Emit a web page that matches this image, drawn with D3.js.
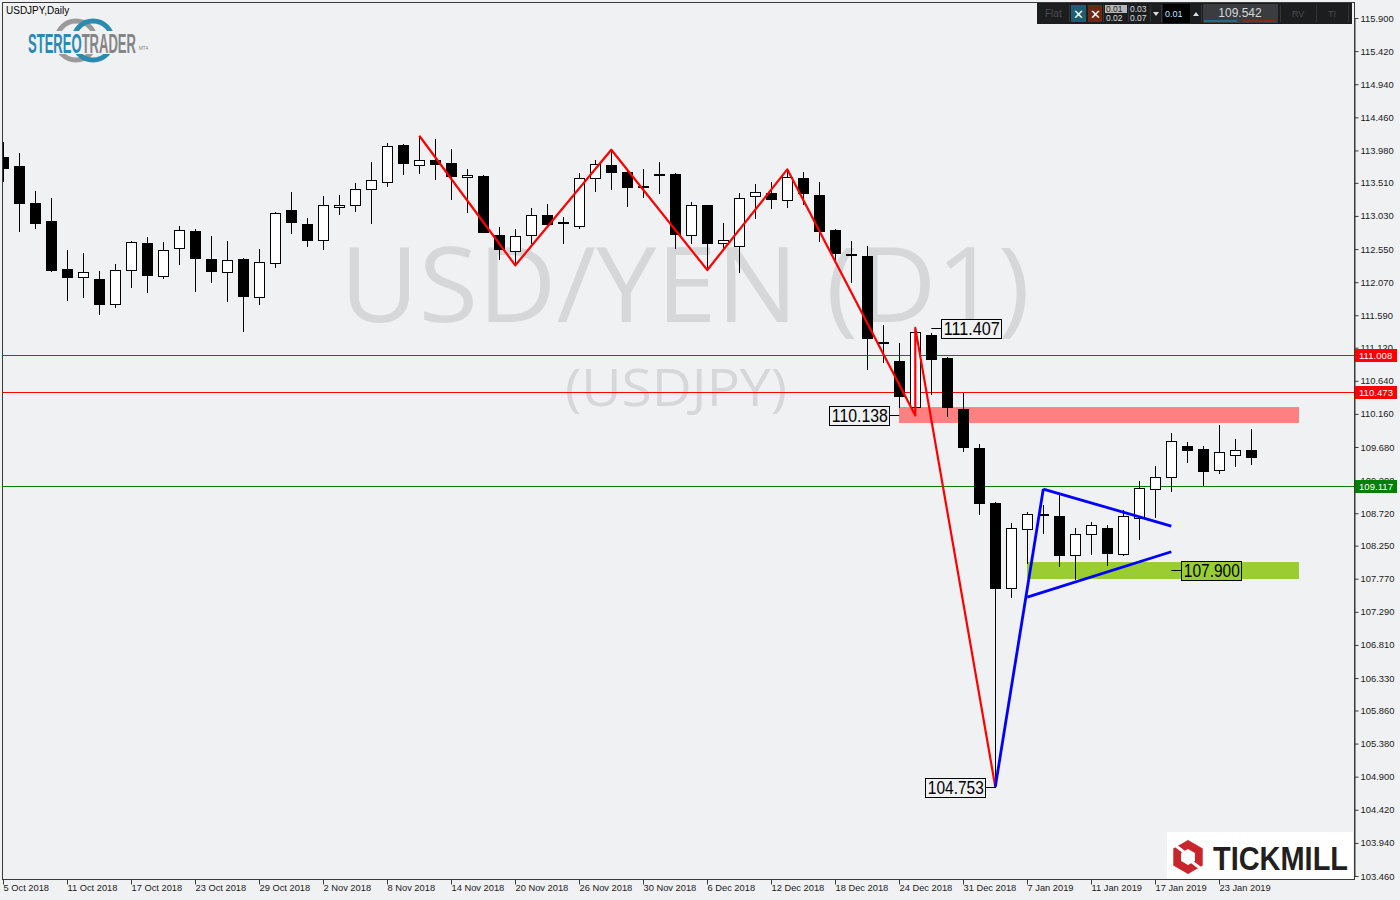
<!DOCTYPE html>
<html><head><meta charset="utf-8">
<script src="https://cdn.jsdelivr.net/npm/d3@7"></script>
<style>
html,body{margin:0;padding:0;background:#f0f1f3;}
svg{display:block;}
</style></head><body>
<svg id="chart" width="1400" height="900"></svg>
<script>
// ---------- DATA ----------
const dates = ["2018-10-05","2018-10-08","2018-10-09","2018-10-10","2018-10-11","2018-10-12","2018-10-15","2018-10-16","2018-10-17","2018-10-18","2018-10-19","2018-10-22","2018-10-23","2018-10-24","2018-10-25","2018-10-26","2018-10-29","2018-10-30","2018-10-31",
"2018-11-01","2018-11-02","2018-11-05","2018-11-06","2018-11-07","2018-11-08","2018-11-09","2018-11-12","2018-11-13","2018-11-14","2018-11-15","2018-11-16","2018-11-19","2018-11-20","2018-11-21","2018-11-22","2018-11-23","2018-11-26","2018-11-27","2018-11-28","2018-11-29","2018-11-30",
"2018-12-03","2018-12-04","2018-12-05","2018-12-06","2018-12-07","2018-12-10","2018-12-11","2018-12-12","2018-12-13","2018-12-14","2018-12-17","2018-12-18","2018-12-19","2018-12-20","2018-12-21","2018-12-24","2018-12-26","2018-12-27","2018-12-28","2018-12-31",
"2019-01-02","2019-01-03","2019-01-04","2019-01-07","2019-01-08","2019-01-09","2019-01-10","2019-01-11","2019-01-14","2019-01-15","2019-01-16","2019-01-17","2019-01-18","2019-01-21","2019-01-22","2019-01-23","2019-01-24","2019-01-25"];
const open  = [113.880,113.754,113.217,112.956,112.260,112.140,112.115,111.757,112.242,112.637,112.163,112.561,112.811,112.405,112.213,112.405,111.850,112.343,113.116,112.913,112.677,113.155,113.184,113.416,113.518,114.058,113.764,113.841,113.793,113.594,113.609,112.749,112.517,112.753,113.039,112.942,112.888,113.576,113.768,113.667,113.468,113.634,113.638,112.749,113.184,112.633,112.590,113.315,113.362,113.257,113.576,113.333,112.826,112.478,112.449,111.198,110.926,110.255,111.303,110.966,110.230,109.661,108.863,107.631,108.486,108.708,108.675,108.118,108.414,108.505,108.132,108.646,109.075,109.241,109.694,109.650,109.350,109.559,109.636];
const high  = [114.106,113.947,113.391,113.290,112.536,112.492,112.231,112.333,112.666,112.724,112.652,112.884,112.840,112.739,112.666,112.424,112.550,113.091,113.377,113.000,113.319,113.333,113.503,113.808,114.083,114.069,114.193,114.145,114.000,113.706,113.623,112.869,112.840,113.141,113.203,113.010,113.657,113.841,113.990,113.680,113.710,113.808,113.648,113.236,113.190,112.923,113.358,113.489,113.518,113.706,113.667,113.522,112.845,112.666,112.594,111.448,111.183,111.407,111.328,110.989,110.467,109.719,108.886,108.573,108.733,108.838,108.998,108.509,108.596,108.548,108.766,109.186,109.404,109.882,109.752,109.700,109.998,109.795,109.940];
const low   = [113.541,112.816,112.859,112.236,111.811,111.859,111.612,111.714,112.004,111.927,112.134,112.333,111.946,112.076,111.801,111.366,111.757,112.294,112.787,112.598,112.546,113.062,113.097,112.932,113.468,113.634,113.648,113.570,113.280,113.091,112.790,112.410,112.314,112.633,112.874,112.642,112.859,113.396,113.420,113.178,113.309,113.367,112.569,112.642,112.246,112.536,112.221,112.996,113.141,113.164,113.203,112.671,112.372,112.076,110.806,110.916,110.264,110.138,110.448,110.129,109.626,108.704,104.753,107.500,107.993,108.432,107.958,107.761,108.132,107.973,108.118,108.350,108.669,109.046,109.466,109.128,109.307,109.408,109.437];
const close = [113.721,113.222,112.932,112.246,112.149,112.213,111.757,112.242,112.648,112.178,112.532,112.822,112.424,112.236,112.387,111.873,112.358,113.072,112.946,112.685,113.184,113.184,113.416,113.547,114.044,113.802,113.837,113.779,113.613,113.623,112.801,112.546,112.735,113.039,112.917,112.940,113.576,113.779,113.671,113.454,113.466,113.636,112.772,113.184,112.642,112.677,113.294,113.373,113.271,113.590,113.367,112.816,112.497,112.476,111.264,111.196,110.419,111.343,110.951,110.264,109.675,108.863,107.631,108.501,108.704,108.710,108.118,108.414,108.544,108.147,108.675,109.081,109.241,109.762,109.640,109.336,109.603,109.632,109.542];

const priceTicks = [115.900,115.420,114.940,114.460,113.980,113.510,113.030,112.550,112.070,111.590,111.120,110.640,110.160,109.680,109.200,108.720,108.250,107.770,107.290,106.810,106.330,105.860,105.380,104.900,104.420,103.940,103.460];
const dateTickIdx = [0,4,8,12,16,20,24,28,32,36,40,44,48,52,56,60,64,68,72,76];

const redLevels = [111.008, 110.473];
const greenLevels = [109.117];
// zig-zag pattern (bar index, price)
const redZigBars   = [26, 32, 38, 44, 49, 57, 57, 62];
const redZigPrices = [114.193, 112.314, 113.990, 112.246, 113.706, 110.138, 111.407, 104.753];
const blueLegBars   = [62, 65];
const blueLegPrices = [104.753, 109.070];
const triUpperBars = [65, 73], triUpperPrices = [109.070, 108.534];
const triLowerBars = [64, 73], triLowerPrices = [107.504, 108.161];
// zones: [fromBar, toBar, lowPrice, highPrice]
const resistanceZone = [56, 81, 110.028, 110.259];
const supportZone = [64, 81, 107.766, 108.012];
// price labels
const labelValues = [111.407, 110.138, 104.753, 107.900];
const labelBars   = [58, 56, 62, 73];
const labelSides  = ["right", "left", "left", "right"];
const currentPrice = 109.542;

// ---------- DRAW ----------
const svg = d3.select("#chart");
const W = 1400, H = 900;
const L = 3, R = 1354, T = 3, B = 879;
const BG = "#f0f1f3";

const x = d3.scaleLinear().domain([0, 84]).range([3.3, 3.3 + 16 * 84]);
const y = d3.scaleLinear().domain([103.46, 115.9]).range([876, 18]);
const cx = i => Math.round(x(i));
const yr = p => Math.round(y(p));

svg.append("rect").attr("width", W).attr("height", H).attr("fill", BG);

svg.append("defs").append("clipPath").attr("id", "plotclip")
  .append("rect").attr("x", L).attr("y", T).attr("width", R - L).attr("height", B - T);

const plot = svg.append("g").attr("clip-path", "url(#plotclip)");

// watermark
plot.append("text").attr("x", 685).attr("y", 322).attr("text-anchor", "middle")
  .style("font-family", "'Open Sans', 'Noto Sans', sans-serif").style("font-weight", 400)
  .style("font-size", "104px").attr("textLength", 690).attr("lengthAdjust", "spacingAndGlyphs")
  .attr("fill", "#d6d7d9").text("USD/YEN (D1)");
plot.append("text").attr("x", 676).attr("y", 406).attr("text-anchor", "middle")
  .style("font-family", "'Open Sans', 'Noto Sans', sans-serif").style("font-weight", 400)
  .style("font-size", "52px").attr("textLength", 222).attr("lengthAdjust", "spacingAndGlyphs")
  .attr("fill", "#d6d7d9").text("(USDJPY)");

// zones
function zone(z, color) {
  plot.append("rect")
    .attr("x", cx(z[0])).attr("width", cx(z[1]) - cx(z[0]))
    .attr("y", y(z[3])).attr("height", y(z[2]) - y(z[3]))
    .attr("fill", color);
}
zone(resistanceZone, "#ff8080");
zone(supportZone, "#9acd32");

// horizontal levels
plot.selectAll(".red-level").data(redLevels).enter().append("line")
  .attr("x1", L).attr("x2", R).attr("y1", d => yr(d) + 0.5).attr("y2", d => yr(d) + 0.5)
  .attr("stroke", "#ff0000").attr("stroke-width", 1).attr("shape-rendering", "crispEdges");
plot.selectAll(".green-level").data(greenLevels).enter().append("line")
  .attr("x1", L).attr("x2", R).attr("y1", d => yr(d) + 0.5).attr("y2", d => yr(d) + 0.5)
  .attr("stroke", "#008000").attr("stroke-width", 1).attr("shape-rendering", "crispEdges");

// candles
const idx = d3.range(open.length);
const cg = plot.append("g").attr("shape-rendering", "crispEdges");
cg.selectAll(".wick").data(idx).enter().append("line")
  .attr("x1", i => cx(i) + 0.5).attr("x2", i => cx(i) + 0.5)
  .attr("y1", i => yr(high[i])).attr("y2", i => yr(low[i]) + 1)
  .attr("stroke", "#000").attr("stroke-width", 1);
cg.selectAll(".body").data(idx).enter().append("rect")
  .attr("x", i => cx(i) - 4.5).attr("width", 10)
  .attr("y", i => yr(Math.max(open[i], close[i])) + 0.5)
  .attr("height", i => Math.max(1, yr(Math.min(open[i], close[i])) - yr(Math.max(open[i], close[i]))))
  .attr("fill", i => close[i] >= open[i] ? "#ffffff" : "#000000")
  .attr("stroke", "#000").attr("stroke-width", 1);

// pattern lines
const line = d3.line().x(d => x(d[0])).y(d => y(d[1]));
plot.append("path").datum(redZigBars.map((b, k) => [b, redZigPrices[k]]))
  .attr("d", line).attr("fill", "none").attr("stroke", "#ff0000").attr("stroke-width", 2.2).attr("stroke-linejoin", "round");
[[blueLegBars, blueLegPrices], [triUpperBars, triUpperPrices], [triLowerBars, triLowerPrices]].forEach(([bb, pp]) => {
  plot.append("path").datum(bb.map((b, k) => [b, pp[k]]))
    .attr("d", line).attr("fill", "none").attr("stroke", "#0000ff").attr("stroke-width", 2.8).attr("stroke-linejoin", "round");
});

// price labels
labelValues.forEach((v, k) => {
  const ax = x(labelBars[k]), ay = yr(v) + 0.5;
  const g = plot.append("g");
  const bw = 60, bh = 19;
  const bx = labelSides[k] === "right" ? ax + 10 : ax - 10 - bw;
  g.append("line").attr("x1", ax).attr("x2", labelSides[k] === "right" ? bx : bx + bw)
    .attr("y1", ay).attr("y2", ay).attr("stroke", "#000").attr("stroke-width", 1);
  g.append("rect").attr("x", Math.round(bx) + 0.5).attr("y", Math.round(ay - bh / 2) + 0.5)
    .attr("width", bw).attr("height", bh)
    .attr("fill", v === 107.900 ? "#9acd32" : BG).attr("stroke", "#000").attr("stroke-width", 1);
  g.append("text").attr("x", bx + bw / 2 + 0.5).attr("y", ay + 6.5).attr("text-anchor", "middle")
    .style("font-family", "'Liberation Sans', Arial, sans-serif").style("font-size", "18px")
    .attr("textLength", 56).attr("lengthAdjust", "spacingAndGlyphs")
    .attr("fill", "#000").text(d3.format(".3f")(v));
});

// frame
svg.append("rect").attr("x", 2.5).attr("y", 2.5).attr("width", R - 2).attr("height", B - 2)
  .attr("fill", "none").attr("stroke", "#3a3a3a").attr("stroke-width", 1);

// axes
const fontAxis = "'Liberation Sans', Arial, sans-serif";
const yAxis = d3.axisRight(y).tickValues(priceTicks).tickFormat(d3.format(".3f")).tickSize(4).tickSizeOuter(0);
const gy = svg.append("g").attr("transform", `translate(${R + 0.5},0)`).call(yAxis);
gy.select(".domain").attr("stroke", "#3a3a3a");
gy.selectAll(".tick line").attr("stroke", "#3a3a3a");
gy.selectAll(".tick text").attr("x", 6).style("font-family", fontAxis).style("font-size", "9.4px").attr("fill", "#1a1a1a");

const parse = d3.timeParse("%Y-%m-%d"), fmt = d3.timeFormat("%-d %b %Y");
const xAxis = d3.axisBottom(x).tickValues(dateTickIdx).tickFormat(i => fmt(parse(dates[i]))).tickSize(5).tickSizeOuter(0);
const gx = svg.append("g").attr("transform", `translate(0,${B + 0.5})`).call(xAxis);
gx.select(".domain").attr("d", `M${L},0H${R}`).attr("stroke", "#3a3a3a");
gx.selectAll(".tick").attr("transform", i => `translate(${cx(i) + 0.5},0)`);
gx.selectAll(".tick line").attr("stroke", "#3a3a3a");
gx.selectAll(".tick text").attr("text-anchor", "start").attr("x", 0).attr("y", 5)
  .style("font-family", fontAxis).style("font-size", "9.3px").attr("fill", "#1a1a1a");

// level tags on the price axis
function tag(v, color) {
  const ty = yr(v);
  svg.append("rect").attr("x", R + 1).attr("y", ty - 6).attr("width", 42).attr("height", 13).attr("fill", color);
  svg.append("text").attr("x", R + 5).attr("y", ty + 4).style("font-family", fontAxis).style("font-size", "9.6px")
    .attr("fill", "#ffffff").text(d3.format(".3f")(v));
}
redLevels.forEach(v => tag(v, "#ff0000"));
greenLevels.forEach(v => tag(v, "#008000"));

// title
svg.append("text").attr("x", 6).attr("y", 14).style("font-family", fontAxis).style("font-size", "10px")
  .attr("fill", "#000").text("USDJPY,Daily");

// STEREOTRADER logo
const lg = svg.append("g");
lg.append("circle").attr("cx", 76).attr("cy", 40.5).attr("r", 19.5).attr("fill", "none").attr("stroke", "#9a9a9a").attr("stroke-width", 5);
lg.append("circle").attr("cx", 93).attr("cy", 40.5).attr("r", 19.5).attr("fill", "none").attr("stroke", "#2a8ab0").attr("stroke-width", 5);
lg.append("rect").attr("x", 24).attr("y", 31).attr("width", 114).attr("height", 23).attr("fill", BG);
const lt = lg.append("text").attr("x", 28).attr("y", 53).style("font-family", "'Liberation Sans Narrow', 'Liberation Sans', sans-serif")
  .style("font-size", "27px").style("font-weight", "bold").attr("textLength", 108).attr("lengthAdjust", "spacingAndGlyphs");
lt.append("tspan").attr("fill", "#2a8ab0").text("STEREO");
lt.append("tspan").attr("fill", "#858585").text("TRADER");
lg.append("text").attr("x", 139).attr("y", 50).style("font-family", fontAxis).style("font-size", "4.5px").attr("fill", "#808080").text("MT4");

// TICKMILL logo
const tg = svg.append("g");
tg.append("rect").attr("x", 1167).attr("y", 832).attr("width", 186).attr("height", 47).attr("fill", "#ffffff");
const hex = d3.range(6).map(k => [1188 + 17 * Math.cos(Math.PI / 3 * k - Math.PI / 2), 857 + 17 * Math.sin(Math.PI / 3 * k - Math.PI / 2)]);
tg.append("path").attr("d", "M" + hex.join("L") + "Z").attr("fill", "#c9252c");
const hex2 = d3.range(6).map(k => [1188 + 8 * Math.cos(Math.PI / 3 * k - Math.PI / 2), 857 + 8 * Math.sin(Math.PI / 3 * k - Math.PI / 2)]);
tg.append("path").attr("d", "M" + hex2.join("L") + "Z").attr("fill", "#ffffff");
tg.append("line").attr("x1", 1176).attr("y1", 846).attr("x2", 1184).attr("y2", 852).attr("stroke", "#fff").attr("stroke-width", 3);
tg.append("line").attr("x1", 1200).attr("y1", 868).attr("x2", 1192).attr("y2", 862).attr("stroke", "#fff").attr("stroke-width", 3);
tg.append("text").attr("x", 1213).attr("y", 870).style("font-family", "'Liberation Sans', Arial, sans-serif").style("font-weight", "bold")
  .style("font-size", "33px").attr("textLength", 135).attr("lengthAdjust", "spacingAndGlyphs").attr("fill", "#231f20").text("TICKMILL");

// toolbar
const tb = svg.append("g");
tb.append("rect").attr("x", 1037).attr("y", 3).attr("width", 315).attr("height", 21).attr("fill", "#1c1d1f");
tb.append("text").attr("x", 1045).attr("y", 17).style("font-family", fontAxis).style("font-size", "10px").attr("fill", "#4a4c50").text("Flat");
tb.append("rect").attr("x", 1071).attr("y", 5).attr("width", 15).attr("height", 17).attr("fill", "#1f5d70");
tb.append("text").attr("x", 1078.5).attr("y", 19).attr("text-anchor", "middle").style("font-family", fontAxis).style("font-size", "13px").attr("fill", "#fff").text("✕");
tb.append("rect").attr("x", 1088).attr("y", 5).attr("width", 14).attr("height", 17).attr("fill", "#6b2816");
tb.append("text").attr("x", 1095).attr("y", 19).attr("text-anchor", "middle").style("font-family", fontAxis).style("font-size", "13px").attr("fill", "#fff").text("✕");
tb.append("rect").attr("x", 1105).attr("y", 5).attr("width", 22).attr("height", 8).attr("fill", "#b8b8b8");
const sm = [["0.01", 1106, 12, "#222"], ["0.02", 1106, 21, "#ddd"], ["0.03", 1130, 12, "#ddd"], ["0.07", 1130, 21, "#ddd"]];
sm.forEach(s => tb.append("text").attr("x", s[1]).attr("y", s[2]).style("font-family", fontAxis).style("font-size", "8.5px").attr("fill", s[3]).text(s[0]));
tb.append("path").attr("d", "M1153,12L1159,12L1156,16Z").attr("fill", "#ddd");
tb.append("rect").attr("x", 1163).attr("y", 4).attr("width", 27).attr("height", 19).attr("fill", "#000");
tb.append("text").attr("x", 1165).attr("y", 17).style("font-family", fontAxis).style("font-size", "9px").attr("fill", "#bfe8ff").text("0.01");
tb.append("path").attr("d", "M1193,16L1199,16L1196,12Z").attr("fill", "#ddd");
tb.append("rect").attr("x", 1203).attr("y", 4).attr("width", 75).attr("height", 19).attr("fill", "#3a3c40");
tb.append("text").attr("x", 1240).attr("y", 17).attr("text-anchor", "middle").style("font-family", fontAxis).style("font-size", "12px").attr("fill", "#d8d8d8").text(d3.format(".3f")(currentPrice));
tb.append("rect").attr("x", 1204).attr("y", 20).attr("width", 33).attr("height", 2).attr("fill", "#1e6e8e");
tb.append("rect").attr("x", 1243).attr("y", 20).attr("width", 33).attr("height", 2).attr("fill", "#8a2a12");
tb.append("text").attr("x", 1292).attr("y", 17).style("font-family", fontAxis).style("font-size", "9px").attr("fill", "#4a4c50").text("RV");
tb.append("text").attr("x", 1328).attr("y", 17).style("font-family", fontAxis).style("font-size", "9px").attr("fill", "#4a4c50").text("TI");
[1069, 1103, 1128, 1150, 1161, 1201, 1280, 1316, 1348].forEach(px => tb.append("line").attr("x1", px + 0.5).attr("x2", px + 0.5).attr("y1", 5).attr("y2", 22).attr("stroke", "#333538"));
</script>
</body></html>
